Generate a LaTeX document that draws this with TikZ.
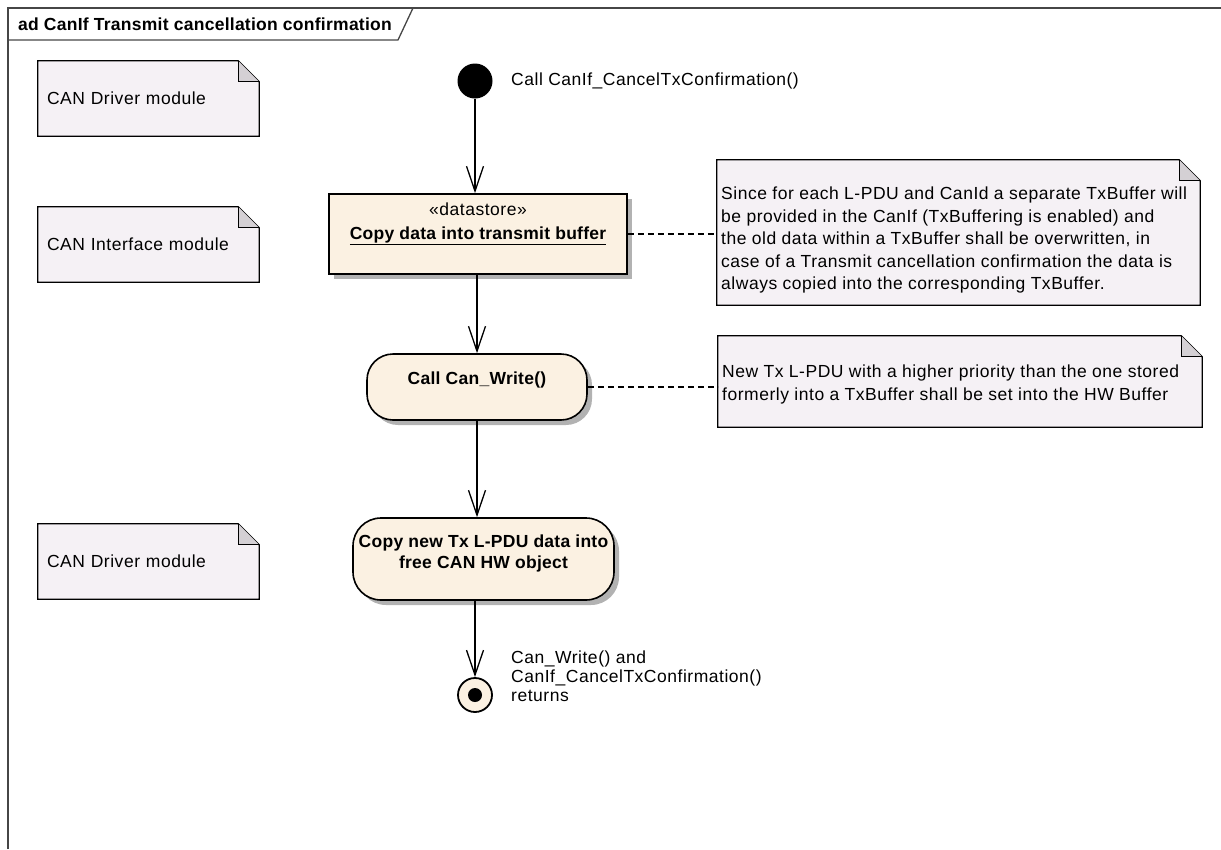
\documentclass[tikz,border=0pt]{standalone}
\usepackage{fontspec}
\setmainfont{Liberation Sans}[LetterSpace=3, BoldFeatures={LetterSpace=1.5}]
\usetikzlibrary{arrows.meta,backgrounds,shadows}

\definecolor{actfill}{RGB}{251,241,226}
\definecolor{notefill}{RGB}{245,241,245}
\definecolor{foldfill}{RGB}{212,208,212}
\definecolor{framecol}{RGB}{70,70,70}

\begin{document}
\begin{tikzpicture}[x=1pt,y=-1pt,
  every node/.style={font=\fontsize{17.5}{22.5}\selectfont},
  flow/.style={line width=1.3pt, -{Straight Barb[length=25pt,width=17pt]}},
  link/.style={line width=1.2pt, dash pattern=on 6pt off 4pt},
  notebox/.style={rectangle, inner xsep=#1, inner ysep=0pt, align=left},
  act/.style={draw, line width=1.6pt, fill=actfill,
    drop shadow={shadow xshift=5pt, shadow yshift=-5pt, fill=black, opacity=0.3}},
  lbl/.style={inner sep=0pt, align=left, anchor=west},
  ctr/.style={inner sep=0pt, align=center},
  boldtext/.style={font=\fontsize{17.5}{21}\selectfont\bfseries},
]
\useasboundingbox (0,0) rectangle (1221,849);

% diagram frame and title tab
\draw[framecol, line width=1.6pt] (8,849) -- (8,8) -- (1221,8);
\draw[framecol, line width=1.3pt] (8,40) -- (398,40) -- (413,8);
\node[lbl, boldtext] (title) at (18,24) {ad CanIf Transmit cancellation confirmation};

% module notes on the left
\node[notebox=9pt, minimum height=75pt, text width=203pt] (drvA) at (148.5,98.5) {CAN Driver module};
\node[notebox=9pt, minimum height=75pt, text width=203pt] (ifc) at (148.5,244.5) {CAN Interface module};
\node[notebox=9pt, minimum height=75pt, text width=203pt] (drvB) at (148.5,561.5) {CAN Driver module};

% comment notes on the right
\node[notebox=0pt, minimum width=483pt, minimum height=145pt] (noteA) at (958.5,232.5) {};
\node[lbl] (noteAtxt) at (721,240)
  {Since for each L-PDU and CanId a separate TxBuffer will\\
   be provided in the CanIf (TxBuffering is enabled) and\\
   the old data within a TxBuffer shall be overwritten, in\\
   case of a Transmit cancellation confirmation the data is\\
   always copied into the corresponding TxBuffer.};
\node[notebox=0pt, minimum width=484pt, minimum height=91pt] (noteB) at (960,381.5) {};
\node[lbl] (noteBtxt) at (722,384.5)
  {New Tx L-PDU with a higher priority than the one stored\\
   formerly into a TxBuffer shall be set into the HW Buffer};

\begin{scope}[on background layer]
  \foreach \n in {drvA,ifc,drvB,noteA,noteB} {
    \filldraw[fill=notefill, line width=1.3pt, line join=miter]
      (\n.north west) -- ([xshift=-21pt]\n.north east) -- ([yshift=-21pt]\n.north east)
      -- (\n.south east) -- (\n.south west) -- cycle;
    \filldraw[fill=foldfill, line width=1.3pt, line join=miter]
      ([xshift=-21pt]\n.north east) -- ([xshift=-21pt,yshift=-21pt]\n.north east)
      -- ([yshift=-21pt]\n.north east);
  }
\end{scope}

% initial node
\node[circle, fill=black, minimum size=35pt, inner sep=0pt] (start) at (475,81) {};
\node[lbl] (startlbl) at (511,81) {Call CanIf\_CancelTxConfirmation()};

% datastore
\node[act, rectangle, minimum width=298pt, minimum height=80pt, inner sep=0pt] (ds) at (478,234) {};
\node[ctr] (dsst) at (478,209) {«datastore»};
\node[ctr, boldtext] (dsname) at (478,236) {\underline{Copy data into transmit buffer}};

% actions
\node[act, rectangle, rounded corners=26pt, minimum width=220pt, minimum height=66pt, inner sep=0pt] (write) at (477,387) {};
\node[ctr, boldtext] (writet) at (477,380) {Call Can\_Write()};

\node[act, rectangle, rounded corners=28pt, minimum width=261pt, minimum height=82pt, inner sep=0pt] (copy) at (483.5,559) {};
\node[ctr, boldtext] (copyt) at (483.5,553.5) {Copy new Tx L-PDU data into\\free CAN HW object};

% final node
\node[circle, draw, line width=1.8pt, fill=actfill, minimum size=34pt, inner sep=0pt] (final) at (475,695) {};
\node[circle, fill=black, minimum size=14pt, inner sep=0pt] (finaldot) at (final.center) {};
\node[lbl, font=\fontsize{17.5}{19}\selectfont] (finallbl) at (511,676)
  {Can\_Write() and\\CanIf\_CancelTxConfirmation()\\returns};

% control flow
\draw[flow] (start.south) -- (start.south |- ds.north);
\draw[flow] (write.north |- ds.south) -- (write.north);
\draw[flow] (write.south) -- (write.south |- copy.north);
\draw[flow] (final.north |- copy.south) -- (final.north);

% note links
\draw[link] (ds.east) -- (ds.east -| noteA.west);
\draw[link] (write.east) -- (write.east -| noteB.west);
\end{tikzpicture}
\end{document}
